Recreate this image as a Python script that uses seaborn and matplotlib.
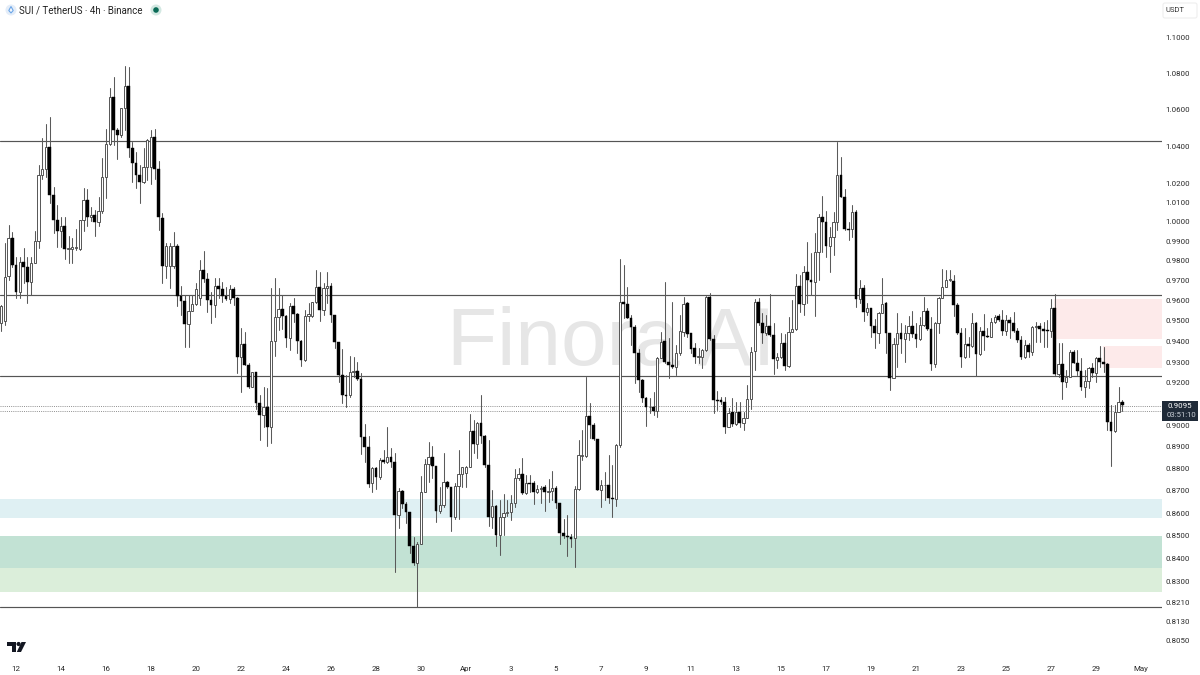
import matplotlib
matplotlib.use("Agg")
import matplotlib.pyplot as plt
from matplotlib.patches import Circle, FancyBboxPatch, Polygon, Rectangle
import numpy as np
import pandas as pd
import seaborn as sns

# ---------- chart values (prices in USDT) ----------
opens = [
 .9489,.9502,.9724,.9916,.9780,.9646,.9793,.9768,.9695,.9788,
 .9904,1.0247,1.0277,1.0398,1.0138,1.0011,.9955,.9977,.9861,.9861,
 .9864,.9861,1.0008,1.0115,1.0025,1.0037,1.0001,1.0058,1.0238,1.0411,
 1.0670,1.0488,1.0459,1.0606,1.0729,1.0393,1.0312,1.0247,1.0207,1.0286,
 1.0291,1.0452,1.0277,1.0023,.9775,.9775,.9775,.9878,.9625,.9601,
 .9483,.9551,.9585,.9613,.9755,.9708,.9604,.9579,.9676,.9659,
 .9626,.9608,.9659,.9613,.9323,.9386,.9286,.9182,.9251,.9103,
 .9048,.9087,.8991,.9404,.9518,.9558,.9527,.9415,.9574,.9534,
 .9404,.9310,.9525,.9525,.9592,.9671,.9555,.9666,.9676,.9530,
 .9399,.9238,.9142,.9142,.9251,.9259,.9217,.8947,.8898,.8734,
 .8805,.8761,.8840,.8829,.8852,.8832,.8592,.8699,.8641,.8604,
 .8455,.8380,.8464,.8693,.8820,.8852,.8813,.8611,.8637,.8742,
 .8716,.8582,.8722,.8775,.8780,.8810,.8976,.8914,.9010,.8951,
 .8816,.8585,.8634,.8504,.8582,.8603,.8607,.8647,.8757,.8775,
 .8689,.8734,.8734,.8696,.8708,.8716,.8696,.8701,.8714,.8644,
 .8513,.8500,.8493,.8488,.8707,.8860,.8860,.9044,.9002,.8935,
 .8704,.8725,.8728,.8666,.8663,.8909,.9596,.9584,.9517,.9469,
 .9342,.9214,.9130,.9085,.9085,.9067,.9318,.9404,.9298,.9286,
 .9275,.9345,.9448,.9587,.9440,.9368,.9326,.9326,.9358,.9620,
 .9410,.9119,.9119,.9108,.8994,.9061,.9005,.9063,.9013,.9036,
 .9124,.9353,.9596,.9489,.9440,.9476,.9430,.9310,.9323,.9391,
 .9283,.9448,.9461,.9676,.9584,.9743,.9705,.9693,.9848,1.0028,
 .9998,.9877,.9921,1.0001,1.0246,1.0132,.9966,.9966,1.0049,.9609,
 .9665,.9546,.9563,.9473,.9443,.9541,.9587,.9440,.9222,.9388,
 .9440,.9412,.9440,.9473,.9435,.9412,.9481,.9550,.9459,.9291,
 .9492,.9616,.9671,.9705,.9700,.9580,.9440,.9326,.9388,.9380,
 .9489,.9337,.9453,.9427,.9423,.9494,.9524,.9504,.9453,.9504,
 .9491,.9453,.9407,.9323,.9383,.9347,.9472,.9475,.9461,.9456,
 .9453,.9563,.9243,.9291,.9206,.9227,.9350,.9297,.9257,.9182,
 .9211,.9270,.9249,.9318,.9302,.9291,.9014,.8976,.9064,.9111,
]
closes = [
 .9572,.9721,.9916,.9780,.9646,.9793,.9768,.9695,.9788,.9904,
 1.0247,1.0277,1.0398,1.0138,1.0011,.9955,.9977,.9861,.9864,.9870,
 .9870,1.0008,1.0115,1.0025,1.0037,1.0001,1.0058,1.0238,1.0411,1.0670,
 1.0488,1.0459,1.0606,1.0729,1.0393,1.0312,1.0247,1.0207,1.0286,1.0434,
 1.0452,1.0277,1.0028,.9775,.9878,.9878,.9878,.9625,.9601,.9483,
 .9551,.9585,.9658,.9754,.9708,.9604,.9579,.9676,.9659,.9626,
 .9608,.9659,.9613,.9323,.9386,.9286,.9182,.9251,.9103,.9048,
 .9087,.8991,.9404,.9518,.9558,.9527,.9415,.9574,.9534,.9404,
 .9310,.9525,.9534,.9592,.9671,.9555,.9666,.9676,.9530,.9399,
 .9238,.9142,.9140,.9251,.9259,.9217,.8947,.8898,.8731,.8805,
 .8761,.8840,.8829,.8852,.8832,.8592,.8701,.8641,.8604,.8455,
 .8380,.8464,.8693,.8820,.8852,.8813,.8611,.8637,.8742,.8716,
 .8582,.8722,.8775,.8810,.8810,.8976,.8914,.9010,.8951,.8816,
 .8585,.8634,.8504,.8582,.8603,.8607,.8647,.8757,.8775,.8689,
 .8734,.8733,.8696,.8708,.8713,.8696,.8698,.8714,.8644,.8513,
 .8500,.8493,.8487,.8707,.8863,.8863,.9044,.9002,.8937,.8704,
 .8725,.8728,.8666,.8662,.8909,.9596,.9584,.9517,.9469,.9342,
 .9214,.9130,.9085,.9088,.9067,.9318,.9399,.9298,.9286,.9275,
 .9345,.9451,.9584,.9437,.9365,.9326,.9328,.9358,.9620,.9410,
 .9119,.9116,.9108,.8994,.9060,.9005,.9063,.9010,.9036,.9124,
 .9350,.9596,.9489,.9440,.9476,.9430,.9313,.9323,.9391,.9283,
 .9448,.9461,.9676,.9584,.9743,.9705,.9693,.9848,1.0028,.9998,
 .9877,.9921,1.0001,1.0246,1.0132,.9963,.9959,1.0049,.9609,.9665,
 .9546,.9563,.9473,.9443,.9541,.9584,.9440,.9222,.9388,.9440,
 .9412,.9440,.9473,.9435,.9412,.9481,.9550,.9459,.9291,.9492,
 .9616,.9671,.9705,.9708,.9580,.9440,.9323,.9388,.9380,.9489,
 .9337,.9453,.9427,.9423,.9494,.9521,.9504,.9453,.9504,.9491,
 .9453,.9407,.9323,.9383,.9347,.9472,.9475,.9461,.9453,.9453,
 .9563,.9243,.9291,.9206,.9227,.9350,.9297,.9257,.9182,.9211,
 .9270,.9249,.9318,.9302,.9291,.9014,.8976,.9064,.9111,.9095,
]
highs = [
 .9580,.9890,.9982,.9948,.9822,.9822,.9864,.9822,.9822,.9951,
 1.0300,1.0443,1.0520,1.0556,1.0185,1.0089,1.0028,1.0028,.9925,.9916,
 .9964,1.0011,1.0176,1.0171,1.0080,1.0063,1.0132,1.0335,1.0493,1.0717,
 1.0781,1.0497,1.0610,1.0841,1.0833,1.0425,1.0371,1.0300,1.0389,1.0440,
 1.0488,1.0491,1.0321,1.0046,.9890,.9890,.9948,.9885,.9674,.9630,
 .9630,.9630,.9687,.9805,.9851,.9738,.9646,.9713,.9713,.9696,
 .9671,.9680,.9671,.9618,.9464,.9444,.9294,.9254,.9254,.9142,
 .9182,.9174,.9666,.9713,.9666,.9629,.9530,.9588,.9613,.9538,
 .9407,.9555,.9588,.9596,.9755,.9743,.9688,.9743,.9688,.9530,
 .9399,.9361,.9238,.9329,.9326,.9302,.9246,.9007,.8952,.8810,
 .8810,.8848,.8886,.8991,.8894,.8871,.8712,.8704,.8652,.8607,
 .8496,.8474,.8769,.8843,.8922,.8905,.8813,.8719,.8874,.8745,
 .8719,.8734,.8886,.8810,.8813,.9051,.9025,.9014,.9143,.8955,
 .8932,.8704,.8637,.8659,.8686,.8659,.8681,.8799,.8802,.8851,
 .8772,.8772,.8746,.8727,.8722,.8727,.8752,.8792,.8722,.8647,
 .8573,.8590,.8508,.8722,.8932,.8978,.9230,.9104,.9010,.8938,
 .8751,.8786,.8863,.8817,.8915,.9810,.9780,.9670,.9530,.9481,
 .9361,.9217,.9135,.9127,.9159,.9326,.9448,.9692,.9415,.9596,
 .9383,.9530,.9620,.9596,.9440,.9391,.9367,.9363,.9623,.9637,
 .9432,.9163,.9135,.9135,.9080,.9130,.9111,.9111,.9064,.9190,
 .9374,.9607,.9612,.9538,.9530,.9633,.9489,.9342,.9440,.9435,
 .9522,.9604,.9733,.9730,.9772,.9899,.9839,.9942,1.0042,1.0136,
 1.0058,.9976,1.0054,1.0425,1.0344,1.0171,1.0001,1.0089,1.0063,.9705,
 .9680,.9588,.9563,.9510,.9546,.9713,.9596,.9440,.9415,.9538,
 .9489,.9481,.9527,.9551,.9489,.9522,.9621,.9563,.9522,.9497,
 .9621,.9758,.9755,.9752,.9730,.9588,.9465,.9464,.9423,.9537,
 .9497,.9472,.9534,.9464,.9513,.9530,.9534,.9555,.9530,.9521,
 .9543,.9464,.9427,.9407,.9391,.9477,.9497,.9489,.9497,.9505,
 .9608,.9633,.9391,.9391,.9262,.9359,.9356,.9356,.9318,.9262,
 .9278,.9294,.9326,.9380,.9373,.9294,.9095,.9095,.9182,.9119,
]
lows = [
 .9449,.9481,.9704,.9771,.9613,.9613,.9687,.9588,.9630,.9788,
 .9864,1.0223,1.0238,1.0097,.9942,.9873,.9873,.9809,.9788,.9788,
 .9856,.9856,.9951,.9977,1.0003,.9925,.9977,1.0046,1.0127,1.0408,
 1.0408,1.0330,1.0452,1.0488,1.0344,1.0211,1.0176,1.0101,1.0202,1.0220,
 1.0197,1.0223,.9960,.9687,.9712,.9662,.9763,.9572,.9530,.9374,
 .9374,.9547,.9580,.9580,.9696,.9546,.9489,.9518,.9613,.9596,
 .9604,.9588,.9579,.9246,.9158,.9284,.9174,.9179,.9076,.8932,
 .8994,.8904,.8917,.9330,.9456,.9459,.9375,.9358,.9497,.9342,
 .9281,.9307,.9500,.9518,.9588,.9500,.9530,.9588,.9497,.9367,
 .9206,.9103,.9087,.9134,.9230,.9214,.8868,.8833,.8719,.8697,
 .8707,.8752,.8825,.8828,.8810,.8343,.8533,.8622,.8555,.8423,
 .8373,.8193,.8464,.8696,.8742,.8757,.8559,.8600,.8629,.8711,
 .8522,.8573,.8573,.8719,.8719,.8807,.8874,.8848,.8917,.8810,
 .8545,.8533,.8455,.8416,.8504,.8588,.8570,.8629,.8749,.8686,
 .8686,.8696,.8641,.8689,.8647,.8611,.8652,.8659,.8622,.8462,
 .8488,.8411,.8452,.8365,.8704,.8840,.8855,.8940,.8933,.8702,
 .8629,.8658,.8644,.8585,.8632,.8901,.9514,.9514,.9383,.9201,
 .9159,.9111,.8999,.9057,.9049,.9041,.9318,.9294,.9222,.9270,
 .9238,.9334,.9427,.9421,.9345,.9294,.9297,.9270,.9355,.9407,
 .9057,.9072,.9100,.8966,.8994,.8999,.9002,.8994,.8979,.9033,
 .9075,.9262,.9481,.9391,.9432,.9427,.9241,.9270,.9318,.9262,
 .9278,.9448,.9456,.9546,.9530,.9588,.9629,.9527,.9705,.9848,
 .9822,.9743,.9831,.9959,1.0132,.9959,.9907,.9924,.9571,.9588,
 .9501,.9530,.9423,.9367,.9391,.9538,.9342,.9166,.9222,.9278,
 .9342,.9302,.9407,.9423,.9375,.9407,.9473,.9456,.9262,.9278,
 .9440,.9613,.9671,.9700,.9525,.9437,.9278,.9318,.9326,.9375,
 .9233,.9334,.9359,.9420,.9420,.9489,.9501,.9432,.9432,.9416,
 .9448,.9399,.9313,.9318,.9323,.9334,.9399,.9399,.9375,.9372,
 .9420,.9238,.9227,.9123,.9182,.9227,.9294,.9238,.9167,.9132,
 .9175,.9230,.9203,.9278,.9254,.8979,.8812,.8971,.9064,.9069,
]

level_lines = [1.0426, 0.9631, 0.9231, 0.8192]
dotted_lines = [0.9092, 0.9065]
green_bands = [(0.8579, 0.8664, "#dff0f3"), (0.8359, 0.8499, "#c2e2d4"), (0.8256, 0.8359, "#dbeeda")]
red_zones = [(280.8, 0.9412, 0.9609), (293.9, 0.9272, 0.9378)]

price_ticks = [1.1000, 1.0800, 1.0600, 1.0400, 1.0200, 1.0100, 1.0000, 0.9900, 0.9800, 0.9700,
               0.9600, 0.9500, 0.9400, 0.9300, 0.9200, 0.9000, 0.8900, 0.8800, 0.8700, 0.8600,
               0.8500, 0.8400, 0.8300, 0.8210, 0.8130, 0.8050]
day_labels = ["12", "14", "16", "18", "20", "22", "24", "26", "28", "30", "Apr", "3", "5", "7", "9",
              "11", "13", "15", "17", "19", "21", "23", "25", "27", "29", "May"]
day_positions = list(range(4, 305, 12))

title = "SUI / TetherUS · 4h · Binance"
last_price = "0.9095"
countdown = "03:51:10"
watermark = "Finora AI"

# ---------- figure ----------
sns.set_theme(style="white")
plt.rcParams["font.family"] = ["Roboto", "DejaVu Sans"]
W, H = 1200, 675
fig = plt.figure(figsize=(W / 100, H / 100), dpi=100, facecolor="white")
plot_bottom = 655
ax = fig.add_axes([0, 1 - plot_bottom / H, 1162 / W, plot_bottom / H])
ax.set_yscale("log")
ax.set_xlim(-1 / 3.75, 1161 / 3.75)
ax.set_ylim(0.7991, 1.1218)

idx = np.arange(len(opens))
o, c, hi, lo = map(np.array, (opens, closes, highs, lows))

for low, high, col in green_bands:
    ax.axhspan(low, high, color=col, lw=0, zorder=1)
for start, low, high in red_zones:
    ax.fill_between([start, ax.get_xlim()[1]], low, high, color="#fdeaea", lw=0, zorder=1)

ax.text(447 / 1162, 1 - 365 / plot_bottom, watermark, transform=ax.transAxes, ha="left", va="baseline",
        fontsize=59, color="#e6e6e6", family=["Liberation Sans"], zorder=2)

for v in level_lines:
    ax.axhline(v, color="#555555", lw=0.85, zorder=3)
for v in dotted_lines:
    ax.axhline(v, color="#8f8f8f", lw=0.7, ls=(0, (1, 1.2)), zorder=3)

wicks = pd.DataFrame({
    "candle": np.concatenate([idx, idx]),
    "price": np.concatenate([lo, hi]),
    "end": ["low"] * len(idx) + ["high"] * len(idx),
}).sort_values(["candle", "end"], ascending=[True, False])
sns.lineplot(data=wicks, x="candle", y="price", units="candle", estimator=None, sort=False,
             color="#5a5a5a", lw=0.75, ax=ax, zorder=4, legend=False)

up = c >= o
ax.bar(idx[up], (c - o)[up], bottom=o[up], width=0.66, facecolor="white",
       edgecolor="#4a4a4a", linewidth=0.65, zorder=5)
ax.bar(idx[~up], (o - c)[~up], bottom=c[~up], width=0.7, facecolor="black",
       edgecolor="black", linewidth=0.3, zorder=5)

ax.yaxis.tick_right()
ax.set_yticks(price_ticks)
ax.set_yticklabels([f"{t:.4f}" for t in price_ticks])
ax.minorticks_off()
ax.set_yticks([], minor=True)
ax.set_xticks(day_positions)
ax.set_xticklabels(day_labels)
ax.tick_params(axis="y", length=0, pad=2.6, labelsize=5.7, labelcolor="#2a2a2a")
ax.tick_params(axis="x", length=0, pad=7.8, labelsize=5.7, labelcolor="#2a2a2a")
ax.set_xlabel("")
ax.set_ylabel("")
ax.grid(False)
for s in ax.spines.values():
    s.set_visible(False)
ax.patch.set_alpha(0)

# ---------- chrome, placed in figure pixels ----------
def P(x, y):
    return (x / W, 1 - y / H)
def add(patch):
    fig.add_artist(patch)

fig.text(*P(19, 10), title, fontsize=7.05, color="#222222", va="center", ha="left")

add(Circle((11, H - 10), 5.5, transform=None, color="#e4edf8", lw=0))
add(Polygon([(11, H - 6.5), (8.8, H - 10.5), (11, H - 13), (13.2, H - 10.5)], closed=True, transform=None,
            facecolor="#f3f7fc", edgecolor="#6aa5e8", lw=0.8))
add(Circle((156, H - 10), 5.5, transform=None, color="#d3e8e2", lw=0))
add(Circle((156, H - 10), 2.8, transform=None, color="#0b6b57", lw=0))

# USDT box
add(FancyBboxPatch((1163, H - 18), 34, 15, boxstyle="round,pad=0,rounding_size=2", transform=None,
                   facecolor="white", edgecolor="#eeeeee", lw=0.8))
fig.text(*P(1166, 10.5), "USDT", fontsize=5.5, color="#333333", va="center", ha="left")

# last-price tag
add(Rectangle((1162, H - 421), 36, 20, transform=None, facecolor="#1f2a38", edgecolor="none"))
fig.text(*P(1167, 406), last_price, fontsize=5.7, color="white", va="center", ha="left")
fig.text(*P(1167, 415), countdown, fontsize=5.6, color="#c9ced6", va="center", ha="left")

# TradingView mark
logo = "#131722"
add(Polygon([(7, H - 642), (16, H - 642), (16, H - 652), (11.5, H - 652), (11.5, H - 646), (7, H - 646)],
            closed=True, transform=None, facecolor=logo, edgecolor="none"))
add(Circle((18.6, H - 644), 2.1, transform=None, color=logo, lw=0))
add(Polygon([(21.5, H - 642), (26, H - 642), (21, H - 652), (16.8, H - 652)],
            closed=True, transform=None, facecolor=logo, edgecolor="none"))

fig.savefig("out.png", dpi=100, facecolor="white")
